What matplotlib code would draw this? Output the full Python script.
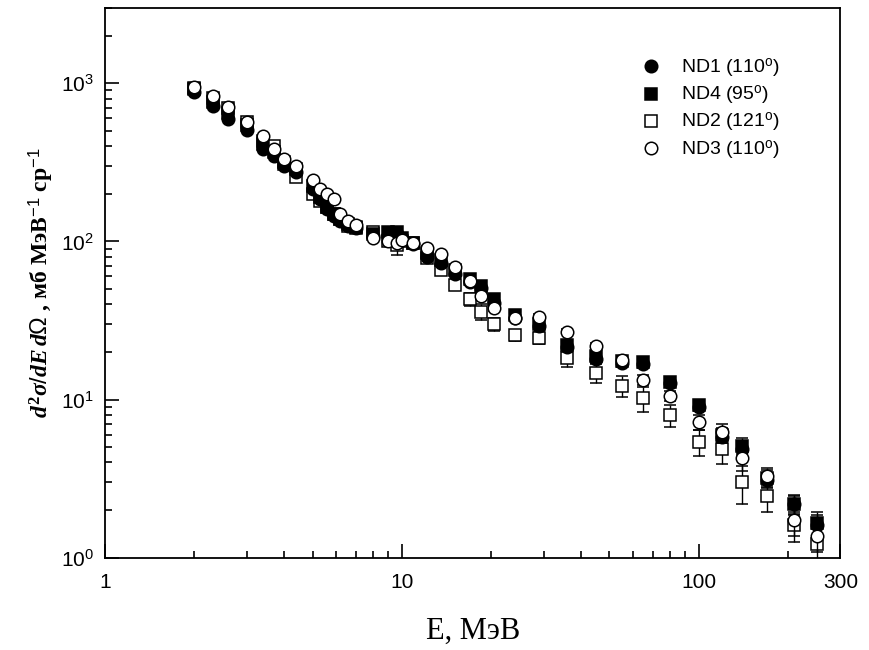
import numpy as np
import matplotlib
matplotlib.use("Agg")
import matplotlib.pyplot as plt
from matplotlib.lines import Line2D
from matplotlib.ticker import LogLocator, NullFormatter

plt.rcParams["font.family"] = ["Liberation Sans", "DejaVu Sans"]
plt.rcParams["mathtext.fontset"] = "custom"
plt.rcParams["mathtext.rm"] = "Liberation Sans"
plt.rcParams["mathtext.it"] = "Liberation Serif:italic:bold"
plt.rcParams["mathtext.bf"] = "Liberation Serif:bold"

# energy bins, MeV
E = [2.0, 2.3, 2.6, 3.0, 3.4, 3.7, 4.0, 4.4, 5.0, 5.3, 5.6, 5.9, 6.2, 6.6, 7.0,
     8.0, 9.0, 9.6, 10.0, 10.9, 12.1, 13.5, 15.1, 17.0, 18.5, 20.5, 24, 29, 36,
     45, 55, 65, 80, 100, 120, 140, 170, 210, 250]

nd1 = [880, 720, 590, 505, 385, 345, 300, 275, 215, 185, 160, 145, 135, 125, 122,
       108, 110, 112, 104, 96, 80, 73, 62, 55, 51, 41, 33, 29, 21.5,
       18.0, 17.0, 16.8, 12.7, 9.0, 5.8, 4.9, 3.1, 2.17, 1.62]
nd1_err = [15, 12, 10, 8, 7, 6, 5, 5, 4, 4, 3, 3, 3, 3, 3,
           3, 3, 3, 3, 3, 2.5, 2, 2, 2, 2, 1.5, 1.2, 1.2, 1.0,
           0.9, 0.9, 0.9, 0.7, 0.5, 0.5, 0.5, 0.35, 0.3, 0.25]

nd4 = [920, 760, 650, 545, 415, 370, 310, 285, 225, 190, 165, 150, 138, 128, 124,
       112, 115, 114, 105, 98, 84, 76, 66, 58, 52, 43, 34, 30, 22,
       18.8, 17.5, 17.2, 13.0, 9.3, 6.0, 5.1, 3.2, 2.2, 1.65]
nd4_err = [15, 12, 10, 8, 7, 6, 5, 5, 4, 4, 3, 3, 3, 3, 3,
           3, 3, 3, 3, 3, 2.5, 2, 2, 2, 2, 1.5, 1.2, 1.2, 1.0,
           0.9, 0.9, 0.9, 0.7, 0.5, 0.6, 0.6, 0.4, 0.3, 0.3]

nd2 = [940, 810, 700, 570, 430, 400, 320, 255, 200, 180, 165, 150, 138, 125, 122,
       115, 100, 95, 100, 97, 78, 66, 53, 43, 36, 30, 25.5, 24.5, 18.4,
       14.7, 12.2, 10.2, 8.0, 5.4, 4.9, 3.0, 2.45, 1.6, 1.22]
nd2_err = [20, 15, 12, 10, 8, 7, 6, 5, 5, 4, 4, 4, 4, 4, 4,
           4, 5, 13, 5, 5, 4, 4, 4, 4, 4, 3, 2, 2.2, 2.4,
           2.0, 1.8, 1.8, 1.3, 1.0, 1.0, 0.8, 0.5, 0.35, 0.3]

nd3 = [950, 830, 710, 570, 465, 385, 330, 300, 245, 215, 200, 185, 150, 135, 127,
       105, 100, 98, 102, 98, 91, 83, 69, 56, 45, 38, 33, 33.5, 26.8,
       21.9, 17.8, 13.3, 10.6, 7.2, 6.2, 4.25, 3.3, 1.72, 1.38]
nd3_err = [15, 12, 10, 8, 7, 6, 5, 5, 4, 4, 4, 3, 3, 3, 3,
           3, 3, 3, 3, 3, 2.5, 2, 2, 2, 2, 1.5, 1.2, 1.2, 1.0,
           1.0, 0.9, 0.9, 0.8, 0.8, 0.8, 0.7, 0.4, 0.35, 0.3]

labels = ["ND1 (110$^{\\rm o}$)", "ND4 (95$^{\\rm o}$)",
          "ND2 (121$^{\\rm o}$)", "ND3 (110$^{\\rm o}$)"]
# marker, face colour, size, draw order
styles = [("o", "black", 9, 4), ("s", "black", 8, 3),
          ("s", "white", 8, 2), ("o", "white", 9, 5)]
data = [(nd1, nd1_err), (nd4, nd4_err), (nd2, nd2_err), (nd3, nd3_err)]

fig = plt.figure(figsize=(8.69, 6.5), dpi=100)
ax = fig.add_axes([0.121, 0.142, 0.846, 0.846])

handles = []
for lab, (y, err), (mk, fc, ms, z) in zip(labels, data, styles):
    ax.errorbar(E, y, yerr=err, fmt=mk, mfc=fc, mec="black", mew=1.1, ms=ms,
                ecolor="black", elinewidth=1.0, capsize=4, capthick=1.0, zorder=z)
    handles.append(Line2D([], [], ls="none", marker=mk, mfc=fc, mec="black",
                          mew=1.1, ms=ms, label=lab))

ax.set_xscale("log")
ax.set_yscale("log")
ax.set_xlim(1, 300)
ax.set_ylim(1, 3000)

ax.set_xticks([1, 10, 100, 300])
ax.set_xticklabels(["1", "10", "100", "300"])
ax.xaxis.set_minor_locator(LogLocator(base=10, subs=np.arange(2, 10)))
ax.xaxis.set_minor_formatter(NullFormatter())
ax.set_yticks([1, 10, 100, 1000])
ax.yaxis.set_minor_locator(LogLocator(base=10, subs=np.arange(2, 10)))
ax.yaxis.set_minor_formatter(NullFormatter())

ax.tick_params(which="both", direction="in", top=False, right=False, width=1.2)
ax.tick_params(which="major", length=10, labelsize=15)
ax.tick_params(which="minor", length=5)
ax.tick_params(axis="x", which="major", pad=11)
ax.tick_params(axis="y", which="major", pad=8)
for sp in ax.spines.values():
    sp.set_linewidth(1.3)

ax.set_xlabel("E, МэВ", family="Liberation Serif", fontsize=22, labelpad=18)
ax.set_ylabel("$d^{\\mathbf{2}}\\sigma/dE\\,d\\mathit{Ω}$ , мб МэВ$^{-1}$ ср$^{-1}$",
              family="Liberation Serif", fontweight="bold", fontsize=17, labelpad=4)

ax.legend(handles=handles, loc="upper left", bbox_to_anchor=(0.718, 0.925),
          frameon=False, fontsize=14, handlelength=1.0, handletextpad=1.05,
          labelspacing=0.2, borderaxespad=0)

fig.savefig("out.png", dpi=100)
